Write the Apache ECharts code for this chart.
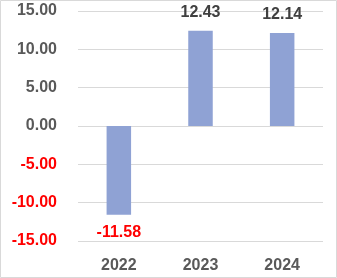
<!DOCTYPE html>
<html><head><meta charset="utf-8">
<script src="https://cdn.jsdelivr.net/npm/echarts@6/dist/echarts.min.js"></script>
<style>html,body{margin:0;padding:0;background:#fff}#c{width:337px;height:278px}</style>
</head><body><div id="c"></div>
<script>
const categories = ['2022', '2023', '2024'];
const values = [-11.58, 12.43, 12.14];
const yTicks = [-15, -10, -5, 0, 5, 10, 15];

const chart = echarts.init(document.getElementById('c'), null, {renderer: 'canvas'});
const font = '"Liberation Sans", Arial, sans-serif';
chart.setOption({
  animation: false,
  graphic: [{type: 'rect', shape: {x: 0.5, y: 0.5, width: 336, height: 277}, style: {fill: 'none', stroke: '#d9d9d9', lineWidth: 1}, silent: true}],
  grid: {left: 78, right: 14, top: 11, bottom: 37, containLabel: false},
  xAxis: {
    type: 'category', data: categories,
    axisLine: {show: false}, axisTick: {show: false},
    axisLabel: {margin: 17, fontFamily: font, fontWeight: 'bold', fontSize: 16, color: '#595959'}
  },
  yAxis: {
    type: 'value', min: yTicks[0], max: yTicks[yTicks.length - 1], interval: 5,
    axisLine: {show: false}, axisTick: {show: false},
    splitLine: {lineStyle: {color: '#d9d9d9', width: 1}},
    axisLabel: {margin: 21, fontFamily: font, fontWeight: 'bold', fontSize: 16,
      formatter: v => v.toFixed(2),
      color: v => (Number(v) < 0 ? '#ff0000' : '#595959')}
  },
  series: [{
    type: 'bar', barWidth: '30%',
    data: values.map(v => ({
      value: v,
      label: {show: true, position: v < 0 ? 'bottom' : 'top', distance: 10,
        color: v < 0 ? '#ff0000' : '#404040'}
    })),
    itemStyle: {color: '#8fa2d4'},
    label: {show: true, fontFamily: font, fontWeight: 'bold', fontSize: 16,
      formatter: p => p.value.toFixed(2)}
  }]
});
</script></body></html>
